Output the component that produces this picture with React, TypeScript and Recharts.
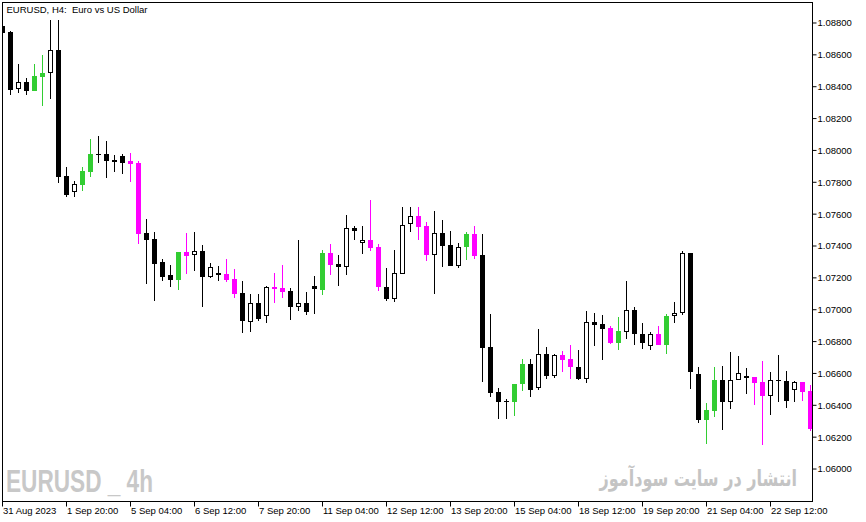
import React from 'react';
import { ComposedChart, Bar, XAxis, YAxis } from 'recharts';

// EURUSD H4 candles, 31 Aug - 22 Sep 2023
const openPrices = [
  1.08779, 1.08743, 1.08386, 1.08428, 1.08374, 1.08462, 1.08483, 1.08633, 1.07839, 1.07737,
  1.07782, 1.07866, 1.07977, 1.07977, 1.07937, 1.07966, 1.07933, 1.07922, 1.0748, 1.07444,
  1.073, 1.07218, 1.07189, 1.07362, 1.07342, 1.07367, 1.07208, 1.07231, 1.07224, 1.07193,
  1.07105, 1.06925, 1.07043, 1.06963, 1.07143, 1.07137, 1.07118, 1.0702, 1.07041, 1.07147,
  1.07126, 1.07356, 1.07287, 1.0727, 1.07511, 1.07421, 1.07438, 1.07394, 1.07143, 1.0707,
  1.07226, 1.07536, 1.07586, 1.07525, 1.07345, 1.0748, 1.07404, 1.07277, 1.07396, 1.07473,
  1.07342, 1.06765, 1.06485, 1.06428, 1.06418, 1.06531, 1.0666, 1.06506, 1.06721, 1.06581,
  1.06715, 1.0669, 1.0664, 1.06568, 1.06922, 1.0691, 1.06886, 1.06794, 1.06859, 1.06997,
  1.06847, 1.06771, 1.06847, 1.06781, 1.06959, 1.06978, 1.07354, 1.06596, 1.06305, 1.06367,
  1.0656, 1.06418, 1.06558, 1.06581, 1.06579, 1.06547, 1.06461, 1.0656, 1.06552, 1.06495,
  1.06547, 1.06491,
];
const highPrices = [
  1.0879, 1.08748, 1.08541, 1.08453, 1.08541, 1.08598, 1.08817, 1.08817, 1.07897, 1.07808,
  1.07893, 1.08073, 1.0809, 1.08058, 1.0797, 1.07977, 1.07983, 1.07933, 1.07569, 1.07488,
  1.07318, 1.07279, 1.07364, 1.07482, 1.07488, 1.07404, 1.07293, 1.07275, 1.07318, 1.07256,
  1.07181, 1.07099, 1.07099, 1.07151, 1.07231, 1.07281, 1.07137, 1.07438, 1.07112, 1.07212,
  1.07373, 1.07413, 1.07344, 1.07594, 1.07525, 1.07525, 1.07688, 1.07413, 1.07262, 1.07375,
  1.07643, 1.07643, 1.07643, 1.07549, 1.07619, 1.07561, 1.07492, 1.07417, 1.07486, 1.07524,
  1.07473, 1.06974, 1.0651, 1.06441, 1.06536, 1.06691, 1.06691, 1.0688, 1.06767, 1.06721,
  1.06742, 1.06777, 1.06747, 1.06992, 1.0698, 1.06967, 1.06899, 1.06955, 1.07181, 1.07016,
  1.06915, 1.06859, 1.06897, 1.06974, 1.07047, 1.07369, 1.07356, 1.06641, 1.06416, 1.06641,
  1.06648, 1.06735, 1.0671, 1.06635, 1.0658, 1.06679, 1.0661, 1.06717, 1.06616, 1.06552,
  1.06548, 1.06528,
];
const lowPrices = [
  1.0872, 1.08347, 1.08361, 1.08347, 1.08372, 1.08278, 1.0832, 1.07797, 1.07709, 1.07709,
  1.07747, 1.07835, 1.07922, 1.07829, 1.07866, 1.07855, 1.07803, 1.07414, 1.07162, 1.07057,
  1.07182, 1.07145, 1.07126, 1.07226, 1.07245, 1.0702, 1.07202, 1.07182, 1.07176, 1.07076,
  1.06856, 1.06863, 1.06932, 1.06919, 1.07045, 1.07076, 1.06938, 1.06994, 1.06969, 1.06976,
  1.07095, 1.0722, 1.07151, 1.0722, 1.07438, 1.07352, 1.07371, 1.0712, 1.07057, 1.07051,
  1.07224, 1.07486, 1.0744, 1.07308, 1.07101, 1.0727, 1.07275, 1.07264, 1.07314, 1.0732,
  1.06549, 1.06449, 1.06317, 1.06312, 1.06331, 1.06487, 1.06449, 1.06493, 1.06562, 1.06574,
  1.06606, 1.06562, 1.06556, 1.06543, 1.06775, 1.06687, 1.06787, 1.0675, 1.06819, 1.06781,
  1.06756, 1.0675, 1.06777, 1.06725, 1.06917, 1.06969, 1.065, 1.06292, 1.0616, 1.06324,
  1.06242, 1.06374, 1.06556, 1.06474, 1.06405, 1.06148, 1.06336, 1.06418, 1.06386, 1.06418,
  1.06424, 1.06236,
];
const closePrices = [
  1.08737, 1.08378, 1.08428, 1.08374, 1.08466, 1.08485, 1.08633, 1.07835, 1.07722, 1.07791,
  1.0787, 1.07977, 1.0797, 1.07935, 1.07927, 1.07922, 1.07916, 1.07475, 1.0744, 1.07289,
  1.07208, 1.07189, 1.07362, 1.07339, 1.07367, 1.07208, 1.07266, 1.0722, 1.07189, 1.07101,
  1.06932, 1.07043, 1.06944, 1.07143, 1.0713, 1.07113, 1.0702, 1.07041, 1.06988, 1.0713,
  1.07356, 1.07281, 1.07268, 1.07511, 1.07496, 1.07438, 1.07389, 1.07143, 1.0707, 1.07231,
  1.0753, 1.07586, 1.07521, 1.07345, 1.0748, 1.07402, 1.07277, 1.07392, 1.07473, 1.07339,
  1.06762, 1.0648, 1.06418, 1.06418, 1.06535, 1.0666, 1.06499, 1.06721, 1.06587, 1.06715,
  1.06687, 1.0664, 1.06568, 1.06922, 1.06901, 1.06882, 1.06794, 1.06867, 1.06997, 1.06847,
  1.0679, 1.06847, 1.06781, 1.06961, 1.06978, 1.07354, 1.06606, 1.06305, 1.06372, 1.0656,
  1.06418, 1.06558, 1.06602, 1.06574, 1.06543, 1.06461, 1.06558, 1.06555, 1.06424, 1.06545,
  1.06486, 1.06253,
];
// k = black body, w = hollow, g = green, m = magenta (indicator colouring)
const candleKinds = [
  'k', 'k', 'w', 'k', 'g', 'g', 'w', 'k', 'k', 'w',
  'g', 'g', 'k', 'k', 'k', 'k', 'm', 'm', 'k', 'k',
  'k', 'k', 'g', 'm', 'w', 'k', 'w', 'k', 'm', 'm',
  'k', 'w', 'k', 'w', 'm', 'm', 'k', 'w', 'k', 'k',
  'g', 'm', 'k', 'w', 'k', 'w', 'm', 'm', 'k', 'w',
  'w', 'w', 'm', 'm', 'w', 'k', 'k', 'w', 'g', 'm',
  'k', 'k', 'k', 'k', 'g', 'g', 'k', 'w', 'k', 'w',
  'm', 'm', 'k', 'w', 'k', 'k', 'm', 'g', 'w', 'k',
  'k', 'w', 'm', 'g', 'w', 'w', 'k', 'k', 'g', 'g',
  'k', 'w', 'w', 'k', 'm', 'm', 'w', 'k', 'k', 'w',
  'm', 'm',
];

const timeTicks = [0, 8, 16, 24, 32, 40, 48, 56, 64, 72, 80, 88, 96];
const timeLabels = [
  '31 Aug 2023', '1 Sep 20:00', '5 Sep 04:00', '6 Sep 12:00', '7 Sep 20:00',
  '11 Sep 04:00', '12 Sep 12:00', '13 Sep 20:00', '15 Sep 04:00', '18 Sep 12:00',
  '19 Sep 20:00', '21 Sep 04:00', '22 Sep 12:00',
];
const priceTicks = [
  1.06, 1.062, 1.064, 1.066, 1.068, 1.07, 1.072, 1.074, 1.076, 1.078,
  1.08, 1.082, 1.084, 1.086, 1.088,
];

const W = 866;
const H = 522;
const PLOT = { left: 2.5, top: 2.5, right: 812.5, bottom: 501.5 };
const FONT = '"Liberation Sans", Arial, sans-serif';

const colors = { k: '#000000', w: '#000000', g: '#32cd32', m: '#ff00ff' };

const data = openPrices.map((open, i) => ({
  i,
  open,
  high: highPrices[i],
  low: lowPrices[i],
  close: closePrices[i],
  kind: candleKinds[i],
  range: [lowPrices[i], highPrices[i]],
}));

// draws one candle inside the [low, high] bar that recharts laid out
const Candle = (props: any) => {
  const { x, y, width, height, payload } = props;
  if (x == null || y == null || !payload) return null;
  const top = Math.min(y, y + height);
  const bot = Math.max(y, y + height);
  const span = payload.high - payload.low;
  const py = (v: number) => top + ((payload.high - v) / span) * (bot - top);
  const cx = Math.floor(x + width / 2);
  const c = colors[payload.kind];
  const yHigh = Math.round(py(payload.high));
  const yLow = Math.round(py(payload.low));
  const bTop = Math.round(py(Math.max(payload.open, payload.close)));
  const bBot = Math.round(py(Math.min(payload.open, payload.close)));
  return (
    <g>
      <line x1={cx + 0.5} x2={cx + 0.5} y1={yHigh} y2={yLow} stroke={c} strokeWidth={1} />
      {payload.kind === 'w' ? (
        <rect x={cx - 1.5} y={bTop + 0.5} width={4} height={Math.max(1, bBot - bTop - 1)}
          fill="#ffffff" stroke="#000000" strokeWidth={1} />
      ) : (
        <rect x={cx - 2} y={bTop} width={5} height={Math.max(1, bBot - bTop)} fill={c} />
      )}
    </g>
  );
};

const TimeTick = (props: any) => {
  const { x, y, payload } = props;
  const label = timeLabels[timeTicks.indexOf(payload.value)];
  const tx = Math.floor(x) + 0.5;
  return (
    <g>
      <line x1={tx} x2={tx} y1={y} y2={y + 5} stroke="#000" />
      <text x={tx + 0.5} y={y + 12} fontSize={9.5} fontFamily={FONT} fill="#000">{label}</text>
    </g>
  );
};

export default function App() {
  return (
    <div style={{ position: 'absolute', left: 0, top: 0, width: W, height: H, background: '#fff' }}>
      <ComposedChart
        width={W}
        height={H}
        data={data}
        margin={{ top: PLOT.top, left: PLOT.left, right: 0, bottom: 0 }}
      >
        <XAxis
          dataKey="i"
          type="category"
          ticks={timeTicks}
          interval={0}
          height={H - PLOT.bottom}
          padding={{ left: -4.2, right: -1.8 }}
          tickSize={0}
          tickMargin={0}
          axisLine={false}
          tickLine={false}
          tick={<TimeTick />}
        />
        <YAxis
          orientation="right"
          type="number"
          domain={[1.057961, 1.089286]}
          ticks={priceTicks}
          interval={0}
          width={W - PLOT.right}
          tickSize={4}
          tickMargin={1}
          axisLine={false}
          tickLine={{ stroke: '#000' }}
          tick={{ fontSize: 9.5, fontFamily: FONT, fill: '#000' }}
          tickFormatter={(v: number) => v.toFixed(5)}
        />
        <Bar dataKey="range" barSize={5} shape={<Candle />} isAnimationActive={false} />
      </ComposedChart>
      <svg width={W} height={H} style={{ position: 'absolute', left: 0, top: 0, pointerEvents: 'none' }}>
        <rect x={0} y={0} width={2} height={PLOT.bottom} fill="#fff" />
        <rect x={PLOT.left} y={PLOT.top} width={PLOT.right - PLOT.left} height={PLOT.bottom - PLOT.top}
          fill="none" stroke="#000" strokeWidth={1} />
        <text x={6.5} y={13} fontSize={9.5} fontFamily={FONT} fill="#000" style={{ whiteSpace: 'pre' }}>
          {'EURUSD, H4:  Euro vs US Dollar'}
        </text>
        <text x={6} y={492} fontSize={31} fontWeight="bold" fontFamily={FONT} fill="#c8c8c8"
          textLength={147} lengthAdjust="spacingAndGlyphs" style={{ whiteSpace: 'pre' }}>
          {'EURUSD _ 4h'}
        </text>
        {/* narrow the Persian watermark with a transform so its box matches what is drawn */}
        <g transform="translate(797 486) scale(0.73 1)">
          <text x={0} y={0} fontSize={22} fontWeight="bold" fontFamily='"DejaVu Sans", sans-serif'
            fill="#c4c4c4" textAnchor="end">
            انتشار در سایت سودآموز
          </text>
        </g>
      </svg>
    </div>
  );
}
